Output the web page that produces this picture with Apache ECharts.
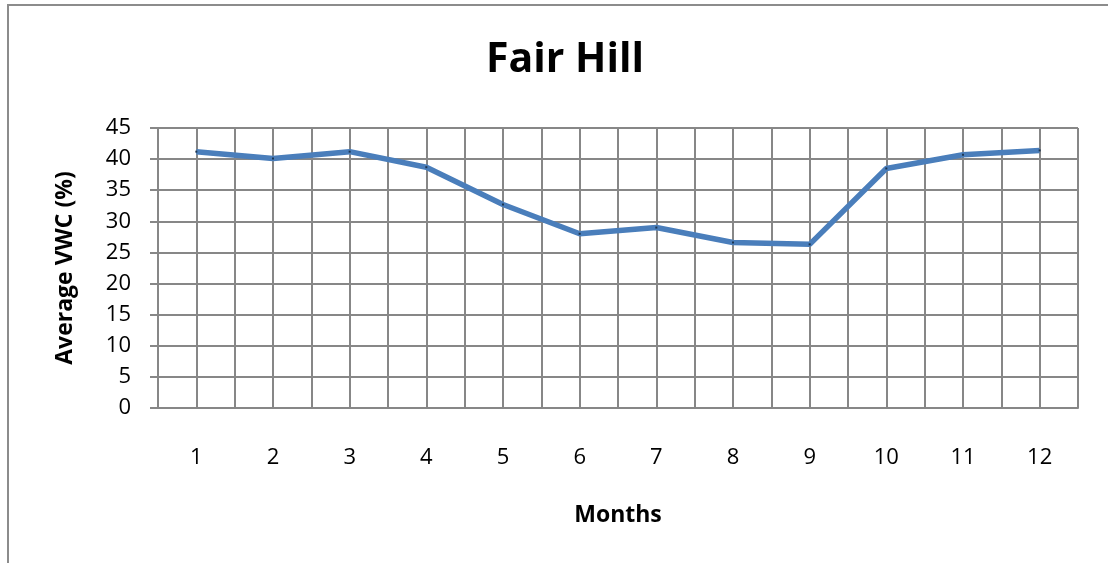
<!DOCTYPE html>
<html>
<head>
<meta charset="utf-8">
<title>Fair Hill</title>
<script src="https://cdn.jsdelivr.net/npm/echarts@6/dist/echarts.min.js"></script>
<style>
  html, body { margin: 0; padding: 0; background: #fff; }
  #main { width: 1108px; height: 563px; }
</style>
</head>
<body>
<div id="main"></div>
<script>
// values
var months = [1, 2, 3, 4, 5, 6, 7, 8, 9, 10, 11, 12];
var avgVwc = [41.2, 40.1, 41.2, 38.7, 32.7, 28.0, 29.0, 26.6, 26.3, 38.5, 40.7, 41.4];
var yTicks = [0, 5, 10, 15, 20, 25, 30, 35, 40, 45];

var font = '"Open Sans", Lato, sans-serif';
var gridColor = '#878787';

var chart = echarts.init(document.getElementById('main'));

// pair each month with its value for the value-type x axis
var points = months.map(function (m, i) { return [m, avgVwc[i]]; });

chart.setOption({
    animation: false,
    backgroundColor: '#fff',
    title: {
        text: 'Fair Hill',
        left: 560,
        top: 35,
        textAlign: 'center',
        textStyle: { fontFamily: font, fontSize: 41, fontWeight: 'bold', color: '#000' }
    },
    graphic: [{
        // outer chart-area frame
        type: 'rect',
        shape: { x: 8, y: 5, width: 1120, height: 580 },
        style: { fill: 'none', stroke: '#8c8c8c', lineWidth: 2 },
        silent: true
    }],
    grid: { left: 158, right: 30, top: 128, bottom: 155 },
    xAxis: {
        type: 'value',
        min: 0.5,
        max: 12.5,
        interval: 0.5,
        name: 'Months',
        nameLocation: 'middle',
        nameGap: 96,
        nameTextStyle: { fontFamily: font, fontSize: 23, fontWeight: 'bold', color: '#000' },
        axisLine: { show: true, lineStyle: { color: gridColor, width: 2 } },
        axisTick: { show: false },
        splitLine: { show: true, lineStyle: { color: gridColor, width: 2 } },
        axisLabel: {
            margin: 39,
            fontFamily: font,
            fontSize: 22,
            color: '#000',
            formatter: function (v) { return Number.isInteger(v) ? String(v) : ''; }
        }
    },
    yAxis: {
        type: 'value',
        min: yTicks[0],
        max: yTicks[yTicks.length - 1],
        interval: yTicks[1] - yTicks[0],
        name: 'Average VWC (%)',
        nameLocation: 'middle',
        nameGap: 81,
        nameTextStyle: { fontFamily: font, fontSize: 23, fontWeight: 'bold', color: '#000' },
        axisLine: { show: true, lineStyle: { color: gridColor, width: 2 } },
        axisTick: { show: true, length: 8, lineStyle: { color: gridColor, width: 2 } },
        splitLine: { show: true, lineStyle: { color: gridColor, width: 2 } },
        axisLabel: { margin: 27, fontFamily: font, fontSize: 22, color: '#000' }
    },
    series: [{
        type: 'line',
        data: points,
        symbol: 'rect',
        symbolSize: 2,
        itemStyle: { color: '#1c3550' },
        lineStyle: { color: '#4a7ebb', width: 5.5 },
        z: 5
    }]
});
</script>
</body>
</html>
